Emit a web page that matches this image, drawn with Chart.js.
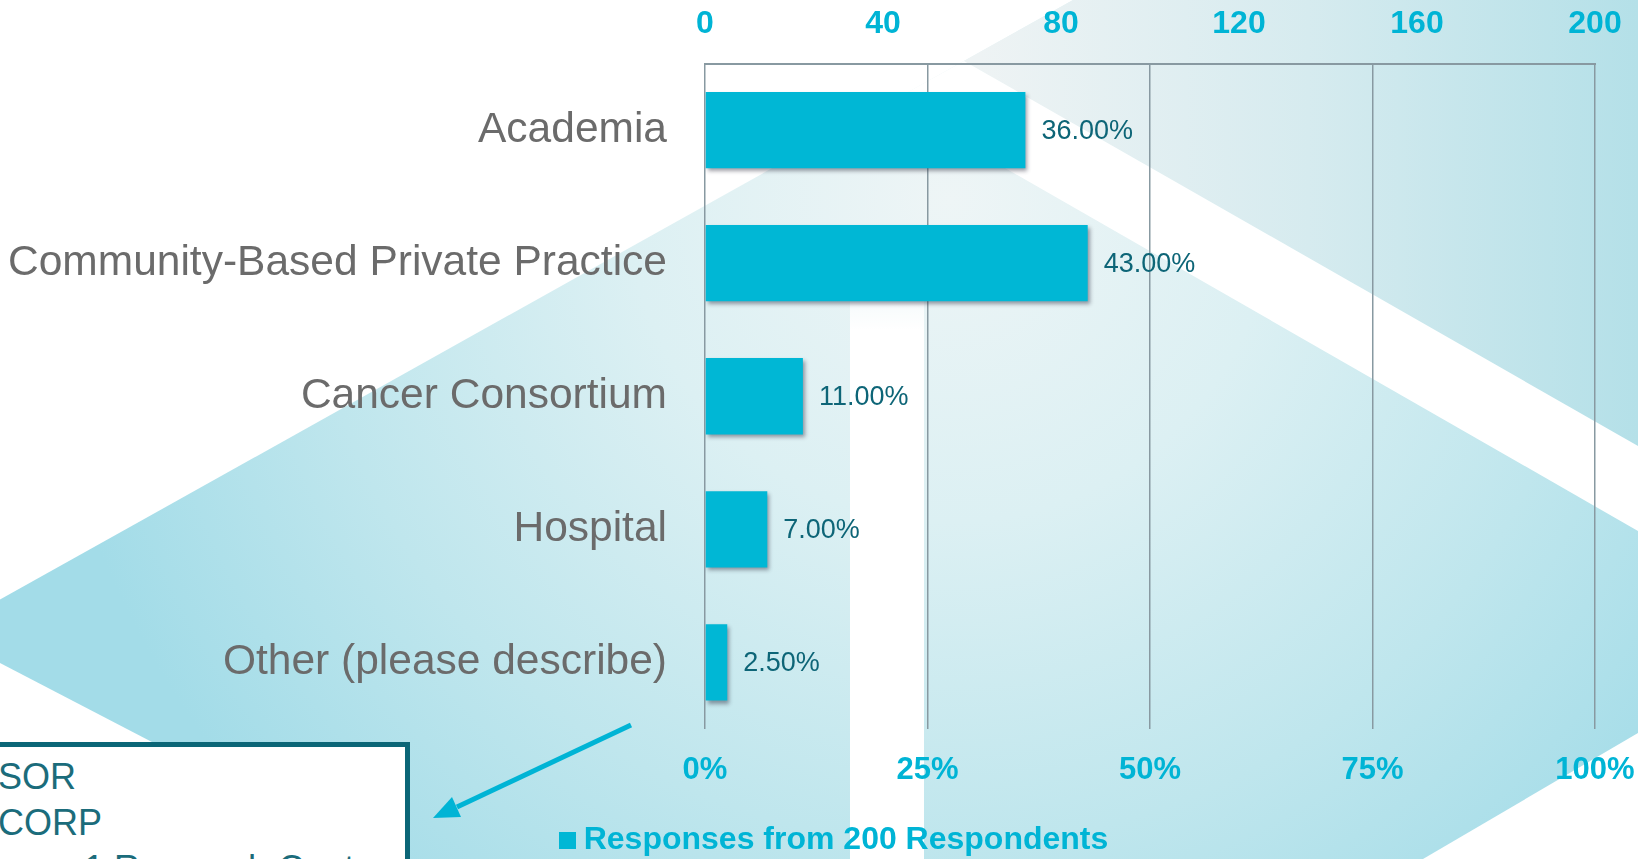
<!DOCTYPE html>
<html>
<head>
<meta charset="utf-8">
<script src="https://cdn.jsdelivr.net/npm/chart.js@4.4.0/dist/chart.umd.min.js"></script>
<style>
  html, body { margin: 0; padding: 0; background: #ffffff; overflow: hidden; }
  #stage { position: relative; width: 1638px; height: 859px; overflow: hidden; background: #ffffff; }
  #bg, #overlay { position: absolute; left: 0; top: 0; }
  #wrap { position: absolute; left: 0; top: 0; width: 1638px; height: 859px; }
  #note { position: absolute; left: -20px; top: 742px; width: 430px; height: 200px; box-sizing: border-box;
          border: 5px solid #0b6677; background: #ffffff; overflow: hidden; }
  .nl { position: absolute; white-space: nowrap; font-family: "Liberation Sans", Arial, sans-serif;
        font-size: 36px; line-height: 36px; color: #1b6c7b; }
</style>
</head>
<body>
<div id="stage">
  <svg id="bg" width="1638" height="859" viewBox="0 0 1638 859">
    <defs>
      <radialGradient id="tealGrad" gradientUnits="userSpaceOnUse" cx="950" cy="200" r="920">
        <stop offset="0" stop-color="#eef5f6"/>
        <stop offset="0.35" stop-color="#dcf0f3"/>
        <stop offset="0.7" stop-color="#bfe6ed"/>
        <stop offset="1" stop-color="#a3dce8"/>
      </radialGradient>
      <linearGradient id="topGrad" gradientUnits="userSpaceOnUse" x1="980" y1="0" x2="1638" y2="0">
        <stop offset="0" stop-color="#eef3f4"/>
        <stop offset="0.5" stop-color="#d6ebef"/>
        <stop offset="1" stop-color="#b4e0e8"/>
      </linearGradient>
      <linearGradient id="colGrad" gradientUnits="userSpaceOnUse" x1="0" y1="250" x2="0" y2="330">
        <stop offset="0" stop-color="#ffffff" stop-opacity="0"/>
        <stop offset="1" stop-color="#ffffff" stop-opacity="1"/>
      </linearGradient>
    </defs>
    <polygon points="-58,632 1073,0 1638,0 1638,733 1423,859 377,859 0,663" fill="url(#tealGrad)"/>
    <polygon points="1073,0 1638,0 1638,446 964,61" fill="url(#topGrad)"/>
    <polygon points="964,61 1638,446 1638,531 890,102" fill="#ffffff"/>
    <rect x="850" y="250" width="74" height="609" fill="url(#colGrad)"/>
  </svg>
  <div id="wrap"><canvas id="chart"></canvas></div>
  <div id="note">
    <div class="nl" style="left:13px; top:12px;">SOR</div>
    <div class="nl" style="left:13px; top:58px;">CORP</div>
    <div class="nl" style="left:99px; top:104px;">1 Research Center</div>
  </div>
  <svg id="overlay" width="1638" height="859" viewBox="0 0 1638 859">
    <line x1="631" y1="725" x2="457" y2="807" stroke="#00b4d5" stroke-width="5"/>
    <polygon points="433,818 461,817 452,797" fill="#00b4d5"/>
  </svg>
</div>
<script>
// ---- data ----
const categories = ['Academia', 'Community-Based Private Practice', 'Cancer Consortium', 'Hospital', 'Other (please describe)'];
const percentages = [36, 43, 11, 7, 2.5];
const percentTicks = [0, 25, 50, 75, 100];
const countTicks = [0, 40, 80, 120, 160, 200];
const seriesLabel = 'Responses from 200 Respondents';

const FONT = '"Liberation Sans", Arial, sans-serif';
const BAR_COLOR = '#00b7d5';
Chart.defaults.font.family = FONT;

// legend marker: small filled square
const legendMarker = document.createElement('canvas');
legendMarker.width = 17; legendMarker.height = 17;
(function () {
  const c = legendMarker.getContext('2d');
  c.fillStyle = BAR_COLOR;
  c.fillRect(0, 0, 17, 17);
})();

const barShadow = {
  id: 'barShadow',
  beforeDatasetDraw(chart) {
    const ctx = chart.ctx;
    ctx.save();
    ctx.shadowColor = 'rgba(40,40,60,0.45)';
    ctx.shadowBlur = 4;
    ctx.shadowOffsetX = 2;
    ctx.shadowOffsetY = 3;
  },
  afterDatasetDraw(chart) {
    chart.ctx.restore();
  }
};

const valueLabels = {
  id: 'valueLabels',
  afterDatasetsDraw(chart) {
    const ctx = chart.ctx;
    const meta = chart.getDatasetMeta(0);
    const data = chart.data.datasets[0].data;
    ctx.save();
    ctx.font = '27px ' + FONT;
    ctx.fillStyle = '#0d6577';
    ctx.textAlign = 'left';
    ctx.textBaseline = 'middle';
    meta.data.forEach((bar, i) => {
      ctx.fillText(data[i].toFixed(2) + '%', bar.x + 16, bar.y + 1);
    });
    ctx.restore();
  }
};

const legendShift = {
  id: 'legendShift',
  afterLayout(chart) {
    const lg = chart.legend;
    if (lg) { lg.left += 40; lg.right += 40; }
  }
};

const noOverhang = s => { s.paddingLeft = 0; s.paddingRight = 0; };

new Chart(document.getElementById('chart'), {
  type: 'bar',
  data: {
    labels: categories,
    datasets: [{
      label: seriesLabel,
      data: percentages,
      backgroundColor: BAR_COLOR,
      borderWidth: 0,
      barPercentage: 0.573,
      categoryPercentage: 1,
      xAxisID: 'x',
      yAxisID: 'y'
    }]
  },
  options: {
    indexAxis: 'y',
    responsive: true,
    maintainAspectRatio: false,
    animation: false,
    layout: { padding: { top: 6, left: 0, right: 43, bottom: -7 } },
    scales: {
      x: {
        type: 'linear', position: 'bottom', min: 0, max: 100,
        afterBuildTicks: s => { s.ticks = percentTicks.map(v => ({ value: v })); },
        afterFit: s => { s.height = 55; noOverhang(s); },
        ticks: { padding: 23, callback: v => v + '%', color: '#00b4d5', font: { size: 31, weight: 'bold', family: FONT } },
        grid: { color: '#8899a1', lineWidth: 1.5, drawTicks: false },
        border: { display: false }
      },
      x2: {
        type: 'linear', position: 'top', min: 0, max: 200,
        afterBuildTicks: s => { s.ticks = countTicks.map(v => ({ value: v })); },
        afterFit: s => { s.height = 57; noOverhang(s); },
        ticks: { padding: 20, color: '#00b4d5', font: { size: 32, weight: 'bold', family: FONT } },
        grid: { display: false, drawTicks: false },
        border: { display: true, color: '#8899a1', width: 2 }
      },
      y: {
        type: 'category',
        afterFit: s => { s.width = 705; },
        ticks: { color: '#6b6b6b', font: { size: 42.5, family: FONT }, padding: 38 },
        grid: { display: false, drawTicks: false },
        border: { display: false }
      }
    },
    plugins: {
      legend: {
        display: true,
        position: 'bottom',
        labels: {
          usePointStyle: true,
          pointStyle: legendMarker,
          pointStyleWidth: 1,
          boxHeight: 17,
          padding: 40,
          color: '#00b4d5',
          font: { size: 32, weight: 'bold', family: FONT }
        }
      },
      tooltip: { enabled: false }
    }
  },
  plugins: [barShadow, valueLabels, legendShift]
});
</script>
</body>
</html>
